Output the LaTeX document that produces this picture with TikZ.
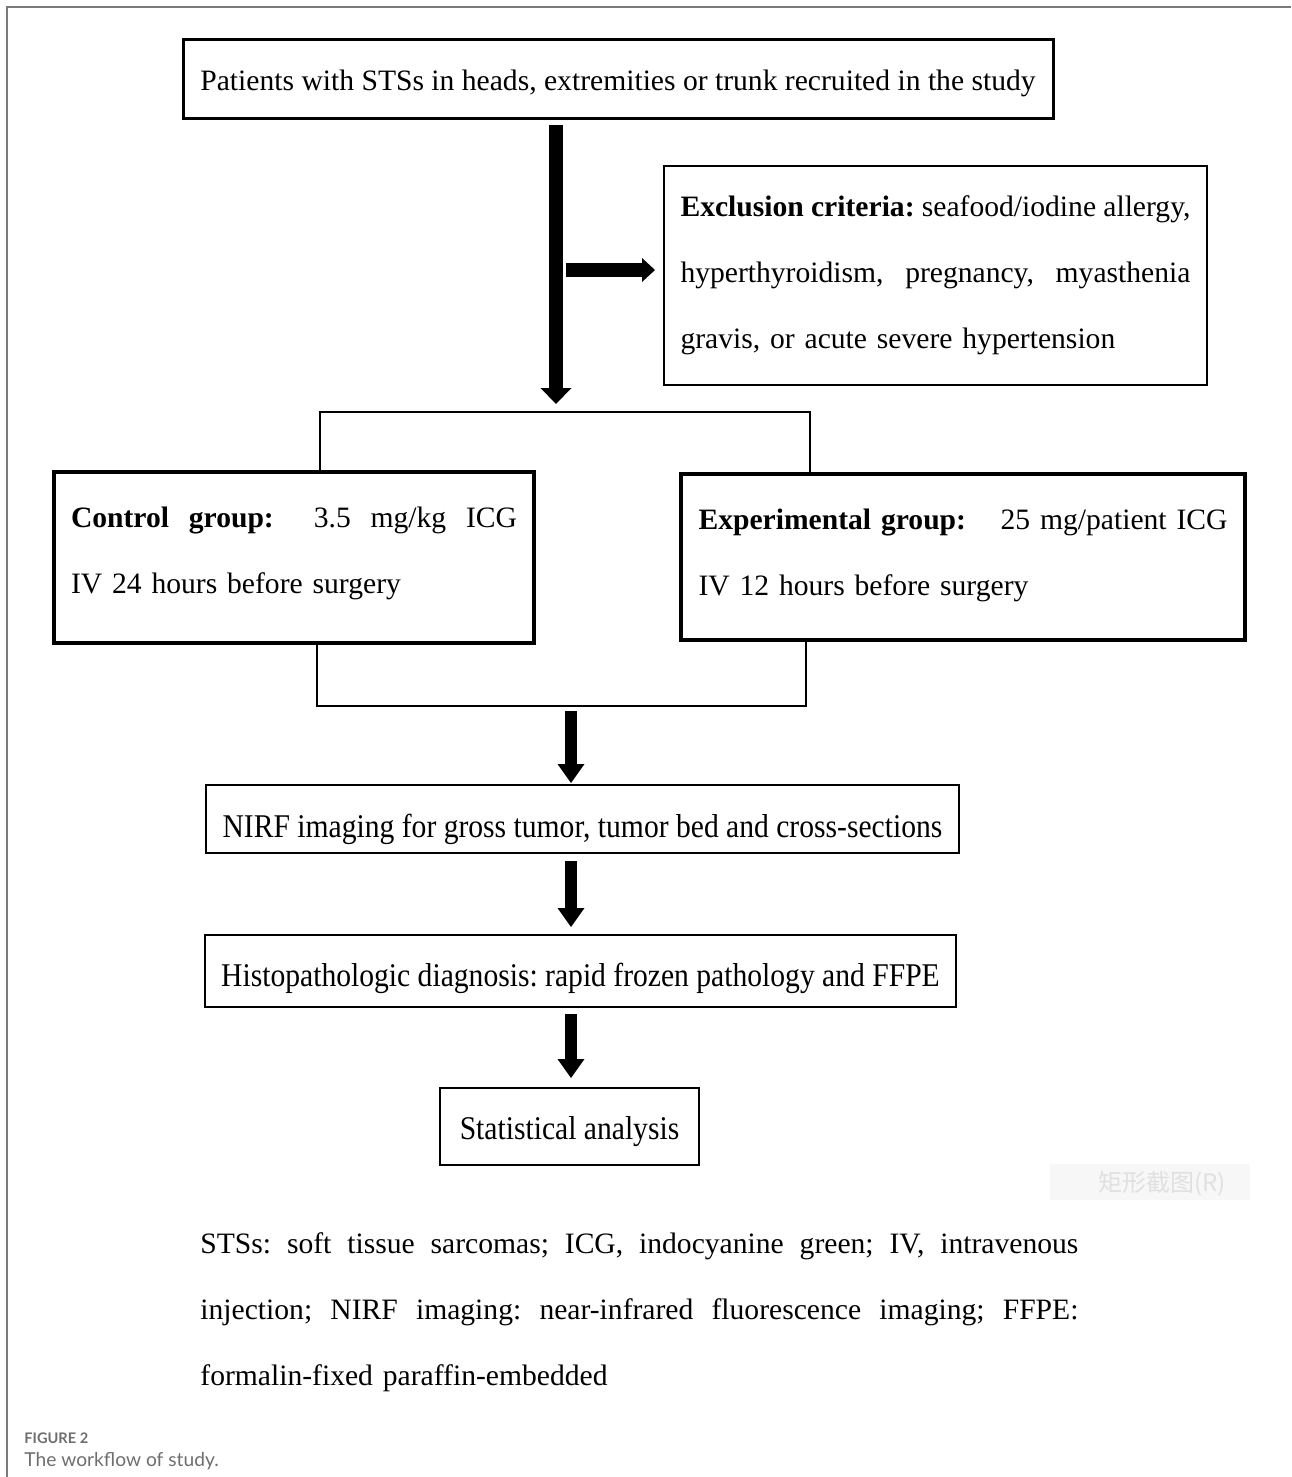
\documentclass[tikz,border=0pt]{standalone}
\usepackage{fontspec}
\setmainfont{Liberation Serif}
\newfontfamily\capfont{Lato}
\newfontfamily\cjk{Noto Sans CJK SC}
\usepackage{graphicx}
\usepackage{xcolor}
\definecolor{frameGray}{HTML}{7A7A7A}
\definecolor{capGray}{HTML}{6E6E6E}
\usetikzlibrary{arrows.meta, calc}
\tikzset{
    flowBox/.style={draw=black, rectangle, line width=1pt, inner sep=0pt, align=center},
    groupBox/.style={flowBox, line width=2pt, align=left},
    bracketLine/.style={draw=black, line width=1pt},
    bigArrow/.style={line width=7pt, -{Triangle[length=8pt,width=15.5pt,line width=0pt]}},
    sideArrow/.style={line width=7pt, -{Triangle[length=6.5pt,width=12pt,line width=0pt]}},
    stepArrow/.style={line width=6pt, -{Triangle[length=9.5pt,width=13.5pt,line width=0pt]}}
}
% a line spread to a given width, all word gaps equal
\newcommand{\justLine}[2]{\makebox[#1][s]{\spaceskip=0.25em plus 1fil minus 0.08em\relax #2}}
% the lower boxes use a slightly taller type
\newcommand{\tallText}[1]{\scalebox{1}[1.12]{#1}}
\frenchspacing

\begin{document}
\begin{tikzpicture}[x=0.5pt, y=-0.5pt, every node/.style={font=\fontsize{14.8pt}{33pt}\selectfont}]
  \useasboundingbox (0,0) rectangle (1291,1477);
  % page frame
  \draw[frameGray, line width=0.8pt] (7,1477) -- (7,7) -- (1291,7);

  % recruitment and exclusion
  \node[flowBox, line width=1.5pt, minimum width=435pt, minimum height=39.5pt, text height=14.4pt, text depth=3.2pt] (patients) at (618,79.5)
    {Patients with STSs in heads, extremities or trunk recruited in the study};
  \node[flowBox, align=left, text width=255pt, minimum width=271.5pt, minimum height=109.5pt] (excl) at (935.5,275.5)
    {\justLine{255pt}{\textbf{Exclusion criteria:} seafood/iodine allergy,}\\
     \justLine{255pt}{hyperthyroidism, pregnancy, myasthenia}\\
     gravis, or acute severe hypertension};

  % the two groups
  \node[groupBox, text width=223pt, minimum width=240pt, minimum height=85.5pt, text depth=40.7pt] (ctrl) at (294,557.5)
    {\makebox[223pt][s]{\textbf{Control\ \ group:}\hfill 3.5\ \ mg/kg\ \ ICG}\\
     IV 24 hours before surgery};
  \node[groupBox, text width=264.5pt, minimum width=282pt, minimum height=83pt, text depth=38.2pt] (exper) at (963,557)
    {\makebox[264.5pt][s]{\textbf{Experimental group:}\hfill 25 mg/patient ICG}\\
     IV 12 hours before surgery};

  % later steps
  \node[flowBox, minimum width=376.5pt, minimum height=34pt, text height=21.2pt, text depth=3.2pt] (nirf) at (582.5,819)
    {\tallText{NIRF imaging for gross tumor, tumor bed and cross-sections}};
  \node[flowBox, minimum width=375.5pt, minimum height=36pt, text height=18.2pt, text depth=3.2pt] (histo) at (580.5,971)
    {\tallText{Histopathologic diagnosis: rapid frozen pathology and FFPE}};
  \node[flowBox, minimum width=129.5pt, minimum height=38.5pt, text height=15.7pt, text depth=3.2pt] (stat) at (569.5,1126.5)
    {\tallText{Statistical analysis}};

  % arrows at the top
  \coordinate (splitTip) at (556,404);
  \draw[bigArrow, shorten <=2.5pt] (patients.south -| splitTip) -- (splitTip);
  \coordinate (exclFork) at (563,270);
  \draw[sideArrow, shorten <=1.5pt, shorten >=4pt] (exclFork) -- (exclFork -| excl.west);

  % split into the groups and merge again
  \coordinate (splitL) at (320,412);
  \coordinate (splitR) at (810,412);
  \draw[bracketLine] (ctrl.north -| splitL) |- (splitR) -- (exper.north -| splitR);
  \coordinate (mergeL) at (317,706);
  \coordinate (mergeR) at (806,706);
  \draw[bracketLine] (ctrl.south -| mergeL) |- (mergeR) -- (exper.south -| mergeR);

  % arrows down the steps
  \coordinate (stepX) at (571,711);
  \draw[stepArrow, shorten >=0.5pt] (stepX) -- (stepX |- nirf.north);
  \draw[stepArrow, shorten <=3.5pt, shorten >=3.5pt] (stepX |- nirf.south) -- (stepX |- histo.north);
  \draw[stepArrow, shorten <=3pt, shorten >=4.5pt] (stepX |- histo.south) -- (stepX |- stat.north);

  % faint screenshot tag
  \node[fill=black!3, minimum width=100pt, minimum height=18pt, inner sep=0pt] (shotTag) at (1150,1182) {};
  \node[anchor=east, inner sep=0pt, text=black!12, font=\cjk\fontsize{12pt}{14pt}\selectfont] (shotText) at (1226,1184) {矩形截图(R)};

  % abbreviations
  \node[anchor=west, text width=439pt, align=left, inner sep=0pt] (notes) at (200,1312)
    {\justLine{439pt}{STSs: soft tissue sarcomas; ICG, indocyanine green; IV, intravenous}\\
     \justLine{439pt}{injection; NIRF imaging: near-infrared fluorescence imaging; FFPE:}\\
     formalin-fixed paraffin-embedded};

  % caption
  \node[anchor=base west, inner sep=0pt, text=capGray, font=\capfont\bfseries\fontsize{7.3pt}{8pt}\selectfont] (figNum) at (24,1443) {FIGURE 2};
  \node[anchor=base west, inner sep=0pt, text=capGray, font=\capfont\fontsize{9.6pt}{11pt}\selectfont] (figCap) at (24,1466) {The workflow of study.};
\end{tikzpicture}
\end{document}
